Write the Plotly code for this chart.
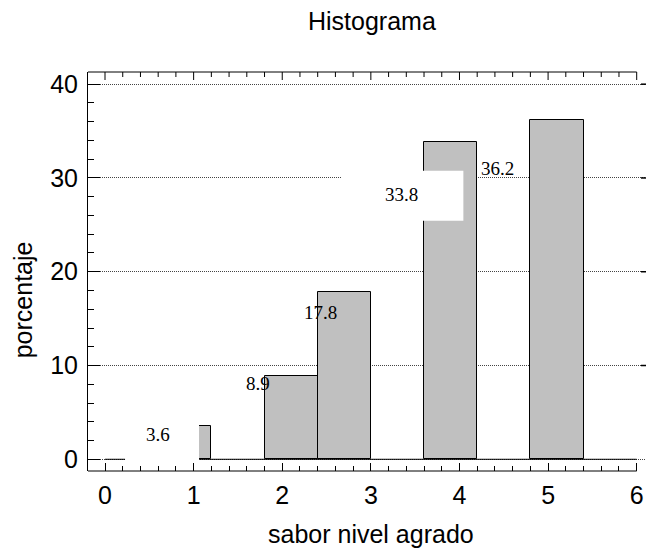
import plotly.graph_objects as go

# ---- data ----
bin_edges = [0.0, 0.6, 1.2, 1.8, 2.4, 3.0, 3.6, 4.2, 4.8, 5.4, 6.0]
percents = [0.0, 3.6, 0.0, 8.9, 17.8, 0.0, 33.8, 0.0, 36.2, 0.0]
label_values = [3.6, 8.9, 17.8, 33.8, 36.2]
x_ticks = [0, 1, 2, 3, 4, 5, 6]
y_ticks = [0, 10, 20, 30, 40]
title_text = "Histograma"
x_title = "sabor nivel agrado"
y_title = "porcentaje"

# ---- layout/positions (not data) ----
W, H = 646, 548
ML, MR, MT, MB = 88, 0, 72, 77
PW, PH = W - ML - MR, H - MT - MB
XR = [-0.192, 6.105]
YR = [-1.25, 41.3]
X_MINOR_STEP = 0.2
label_pos = [(0.595, 2.59), (1.723, 8.03), (2.432, 15.63), (3.348, 28.19), (4.434, 30.98)]
white_boxes = [(0.226, 1.061, -0.29, 5.26), (2.672, 4.044, 25.45, 30.78)]

bins = list(zip(bin_edges[:-1], bin_edges[1:], percents))
nz = [(a, b, p) for a, b, p in bins if p > 0]
centers = [(a + b) / 2 for a, b, p in nz]
widths = [b - a for a, b, p in nz]
heights = [p for a, b, p in nz]

sans = "Liberation Sans, Arial, sans-serif"
serif = "Liberation Serif, Times New Roman, serif"

fig = go.Figure()
fig.add_trace(go.Bar(
    x=centers, y=heights, width=widths,
    marker=dict(color="#C0C0C0", line=dict(color="#000000", width=1)),
    hoverinfo="x+y", showlegend=False,
))

shapes = []
# histogram baseline
shapes.append(dict(type="line", xref="x", yref="y", x0=bin_edges[0], x1=bin_edges[-1],
                   y0=0, y1=0, line=dict(color="#000000", width=1), layer="above"))
# white label boxes
for x0, x1, y0, y1 in white_boxes:
    shapes.append(dict(type="rect", xref="x", yref="y", x0=x0, x1=x1, y0=y0, y1=y1,
                       fillcolor="white", line=dict(width=0), layer="above"))
# bottom & top axis lines up to last tick
for yp in (0, 1):
    shapes.append(dict(type="line", xref="x", yref="paper", x0=XR[0], x1=x_ticks[-1],
                       y0=yp, y1=yp, line=dict(color="#000000", width=1), layer="above"))
# top axis ticks (inside, pointing down)
n_minor = int(round((x_ticks[-1] - x_ticks[0]) / X_MINOR_STEP))
for i in range(n_minor + 1):
    xv = x_ticks[0] + i * X_MINOR_STEP
    is_major = abs(xv - round(xv)) < 1e-9
    ln = 8 if is_major else 5
    shapes.append(dict(type="line", xref="x", yref="paper", x0=xv, x1=xv,
                       y0=1, y1=1 - ln / PH, line=dict(color="#000000", width=1), layer="above"))
# right-side tick stubs
for t in y_ticks[1:]:
    shapes.append(dict(type="line", xref="paper", yref="y", x0=1 - 5 / PW, x1=1.0,
                       y0=t, y1=t, line=dict(color="#000000", width=1.5), layer="above"))

annotations = []
for v, (lx, ly) in zip(label_values, label_pos):
    annotations.append(dict(x=lx, y=ly, xref="x", yref="y", text=f"{v:.1f}", showarrow=False,
                            font=dict(family=serif, size=19, color="#000000"),
                            xanchor="center", yanchor="middle"))
annotations.append(dict(x=(371.7 - ML) / PW, y=(471 - 21) / PH, xref="paper", yref="paper",
                        text=title_text, showarrow=False, xanchor="center", yanchor="middle",
                        font=dict(family=sans, size=25, color="#000000")))
annotations.append(dict(x=(370.8 - ML) / PW, y=(471 - 534) / PH, xref="paper", yref="paper",
                        text=x_title, showarrow=False, xanchor="center", yanchor="middle",
                        font=dict(family=sans, size=25, color="#000000")))
annotations.append(dict(x=(23.3 - ML) / PW, y=(471 - 300) / PH, xref="paper", yref="paper",
                        text=y_title, showarrow=False, xanchor="center", yanchor="middle",
                        textangle=-90, font=dict(family=sans, size=25, color="#000000")))

fig.update_layout(
    width=W, height=H,
    margin=dict(l=ML, r=MR, t=MT, b=MB, pad=0),
    paper_bgcolor="white", plot_bgcolor="white",
    shapes=shapes, annotations=annotations,
    bargap=0,
    xaxis=dict(range=XR, tickvals=x_ticks, ticktext=[str(t) for t in x_ticks],
               showgrid=False, zeroline=False, showline=False,
               ticks="inside", ticklen=8, tickwidth=1, tickcolor="#000000",
               minor=dict(dtick=X_MINOR_STEP, tick0=0, ticks="inside", ticklen=5, tickwidth=1,
                          tickcolor="#000000", showgrid=False),
               tickfont=dict(family=sans, size=25, color="#000000"),
               ticklabelstandoff=7, fixedrange=True),
    yaxis=dict(range=YR, tickvals=y_ticks, ticktext=[str(t) for t in y_ticks],
               showgrid=True, gridcolor="#444444", gridwidth=1, griddash="1px,1px",
               zeroline=False, showline=True, linecolor="#000000", linewidth=1,
               ticks="inside", ticklen=12, tickwidth=1, tickcolor="#000000",
               minor=dict(dtick=2, tick0=0, ticks="inside", ticklen=6, tickwidth=1,
                          tickcolor="#000000", showgrid=False),
               tickfont=dict(family=sans, size=25, color="#000000"),
               ticklabelstandoff=4, fixedrange=True),
)

fig.write_html("out.html")
